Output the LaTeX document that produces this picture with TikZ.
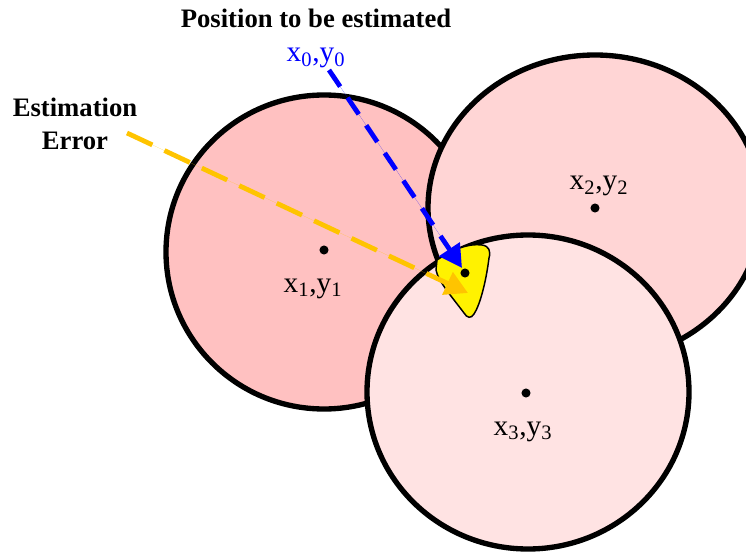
\documentclass[tikz,border=0pt]{standalone}
\usepackage{fontspec}
\setmainfont{Liberation Serif}
\usetikzlibrary{arrows.meta}
\definecolor{cone}{RGB}{255,193,193}
\definecolor{ctwo}{RGB}{255,213,213}
\definecolor{cthree}{RGB}{255,227,227}
\definecolor{gold}{RGB}{255,196,0}
\definecolor{ptblue}{RGB}{0,0,255}
\begin{document}
\begin{tikzpicture}[x=0.75pt,y=-0.75pt,
  ring/.style={draw=black,line width=4pt},
  dot/.style={circle,fill=black,inner sep=0pt,minimum size=6.8pt},
  coordlabel/.style={anchor=base,inner sep=0pt,font=\fontsize{22}{26}\selectfont},
  titlelabel/.style={anchor=base,inner sep=0pt,font=\fontsize{20}{24}\selectfont\bfseries},
  pointer/.style={line width=3.6pt,-{Triangle[length=17pt,width=18pt]}}
]
\useasboundingbox (0,0) rectangle (746,556);
\clip (0,0) rectangle (746,556);
% circles
\draw[ring,fill=cone] (324,252) ellipse [x radius=158, y radius=157];
\draw[ring,fill=ctwo] (595,208) ellipse [x radius=167, y radius=153];
\draw[ring,fill=cthree] (528,392) ellipse [x radius=161, y radius=157];
% estimation region
\draw[fill=yellow,line width=1.1pt,draw=black]
  (437,260) .. controls (452,250) and (468,243) .. (482,245)
  .. controls (489,246) and (491,251) .. (489,258)
  .. controls (486,282) and (480,305) .. (474,314)
  .. controls (471,319) and (467,318) .. (464,313)
  .. controls (452,297) and (438,281) .. (436,270) -- cycle;
% centre points
\node[dot] (p1) at (324,250) {};
\node[dot] (p2) at (595,208) {};
\node[dot] (p3) at (526,393) {};
\node[dot] (p0) at (465,273) {};
% labels
\node[coordlabel] (l1) at (313,292) {x\textsubscript{1},y\textsubscript{1}};
\node[coordlabel] (l2) at (599,190) {x\textsubscript{2},y\textsubscript{2}};
\node[coordlabel] (l3) at (523,435) {x\textsubscript{3},y\textsubscript{3}};
\node[coordlabel,text=ptblue] (l0) at (316,62) {x\textsubscript{0},y\textsubscript{0}};
\node[titlelabel] (title) at (316,28) {Position to be estimated};
\node[titlelabel] (err1) at (75,117) {Estimation};
\node[titlelabel] (err2) at (75,150) {Error};
% pointers
\coordinate (bstart) at (329,70);
\coordinate (btip) at (462,268);
\coordinate (ystart) at (127,133);
\coordinate (ytip) at (468,293);
\draw[pointer,dash pattern=on 15pt off 10pt,draw=ptblue,fill=ptblue] (bstart) -- (btip);
\draw[pointer,dash pattern=on 21pt off 10pt,draw=gold,fill=gold] (ystart) -- (ytip);
\end{tikzpicture}
\end{document}
